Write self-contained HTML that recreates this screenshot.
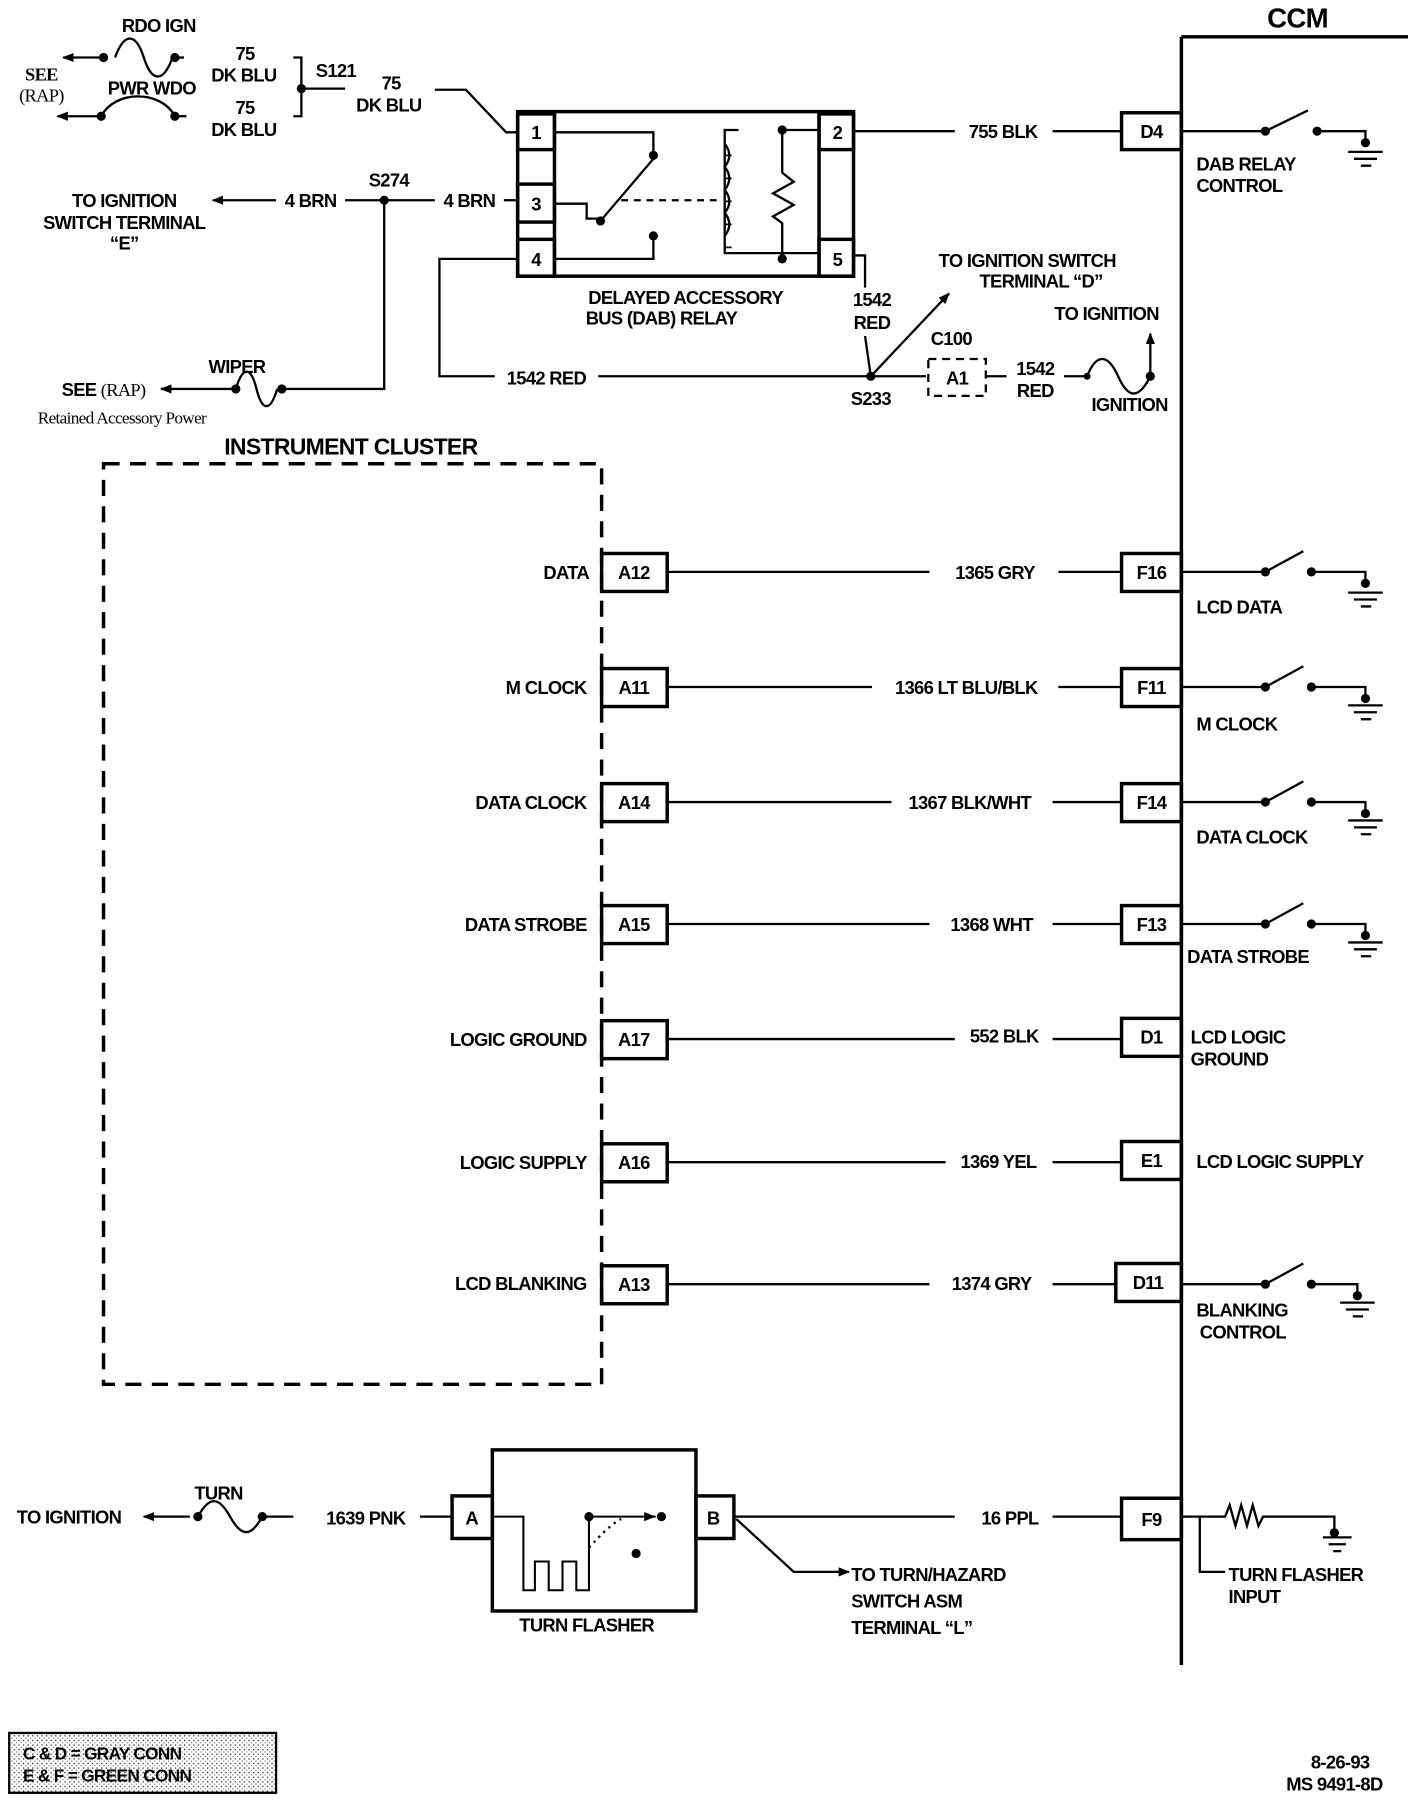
<!DOCTYPE html>
<html><head><meta charset="utf-8"><style>
html,body{margin:0;padding:0;background:#fff;}
svg{display:block;}
text{font-family:"Liberation Sans",sans-serif;font-weight:bold;font-size:16px;fill:#000;letter-spacing:-0.6px;}
.m{text-anchor:middle}.e{text-anchor:end}
</style></head><body>
<svg width="1408" height="1802" viewBox="0 0 1224 1566" preserveAspectRatio="none" xmlns="http://www.w3.org/2000/svg">
<defs>
<marker id="ar" markerWidth="10" markerHeight="8" refX="9" refY="4" orient="auto-start-reverse" markerUnits="userSpaceOnUse"><path d="M0,0 L10,4 L0,8 Z" fill="#000"/></marker>
<pattern id="st" width="4" height="4" patternUnits="userSpaceOnUse"><rect width="4" height="4" fill="#fff"/><rect width="1" height="1" fill="#000"/><rect x="2" y="2" width="1" height="1" fill="#777"/></pattern>
</defs>
<g stroke="#000" stroke-width="2" fill="none">
<line x1="1027" y1="32" x2="1027" y2="1447" stroke-width="3"/>
<line x1="1027" y1="32" x2="1224" y2="32" stroke-width="3"/>
<line x1="55" y1="50" x2="90" y2="50" marker-start="url(#ar)"/>
<path d="M100,50 c8,-22 18,-22 25,0 s17,22 25,0"/>
<line x1="150" y1="50" x2="160" y2="50"/>
<line x1="50" y1="101" x2="88" y2="101" marker-start="url(#ar)"/>
<path d="M88,101 C100,78 140,78 152,101"/>
<line x1="152" y1="101" x2="162" y2="101"/>
<path d="M255,50 H262 V101 H255"/>
<line x1="262" y1="77" x2="300" y2="77"/>
<path d="M378,78 H405 L440,115 H450"/>
<rect x="450" y="97" width="292" height="143" stroke-width="3"/>
<line x1="482" y1="97" x2="482" y2="240" stroke-width="3"/>
<line x1="712" y1="97" x2="712" y2="240" stroke-width="3"/>
<rect x="450" y="99" width="32" height="31" stroke-width="3"/>
<rect x="450" y="160" width="32" height="33" stroke-width="3"/>
<rect x="450" y="208" width="32" height="32" stroke-width="3"/>
<rect x="712" y="99" width="30" height="31" stroke-width="3"/>
<rect x="712" y="208" width="30" height="32" stroke-width="3"/>
<path d="M482,115 H568 V135"/>
<line x1="522" y1="192" x2="568" y2="138"/>
<path d="M482,177 H510 V190 H522"/>
<path d="M568,205 V225 H482"/>
<line x1="540" y1="174" x2="628" y2="174" stroke-dasharray="6,5"/>
<path d="M642,113 H630 V220 H642 M680,113 H712 M630,220 H712"/>
<path d="M630,135 h6 M630,155 h6 M630,175 h6 M630,195 h6 M630,215 h6" stroke-width="1.5"/>
<path d="M630,125 q8,10 0,20 q8,10 0,20 q8,10 0,20 q8,10 0,20"/>
<path d="M680,113 V150 l10,8 -18,10 18,10 -18,10 8,6 V225"/>
<line x1="742" y1="114" x2="830" y2="114"/><line x1="915" y1="114" x2="975" y2="114"/>
<line x1="185" y1="174" x2="240" y2="174" marker-start="url(#ar)"/>
<line x1="300" y1="174" x2="378" y2="174"/><line x1="438" y1="174" x2="450" y2="174"/>
<path d="M334,174 V338 H245"/>
<path d="M205,338 c6,-20 13,-20 18,0 s12,20 18,0"/>
<line x1="140" y1="338" x2="205" y2="338" marker-start="url(#ar)"/>
<path d="M450,225 H382 V327 H430"/>
<line x1="520" y1="327" x2="805" y2="327"/>
<path d="M742,222 H752 V250"/>
<line x1="752" y1="292" x2="757" y2="327"/>
<line x1="757" y1="327" x2="825" y2="255" marker-end="url(#ar)"/>
<rect x="807" y="312" width="50" height="32" stroke-dasharray="7,5"/>
<line x1="857" y1="327" x2="875" y2="327"/>
<line x1="925" y1="327" x2="945" y2="327"/>
<path d="M945,327 c8,-20 18,-20 27,0 s18,20 28,0"/>
<line x1="1000" y1="327" x2="1000" y2="290" marker-end="url(#ar)"/>
<rect x="90" y="403" width="433" height="800" stroke-width="3" stroke-dasharray="14,9"/>
<line x1="125" y1="1318" x2="165" y2="1318" marker-start="url(#ar)"/>
<path d="M172,1318 c10,-18 18,-18 28,0 s18,18 28,0"/>
<line x1="228" y1="1318" x2="255" y2="1318"/>
<line x1="365" y1="1318" x2="393" y2="1318"/>
<rect x="428" y="1260" width="177" height="140" stroke-width="3"/>
<rect x="393" y="1300" width="35" height="37" stroke-width="3"/>
<rect x="605" y="1300" width="33" height="37" stroke-width="3"/>
<path d="M428,1318 H455 V1382 H465 V1357 H477 V1382 H489 V1357 H501 V1382 H512 V1318 H570" stroke-width="1.8"/>
<path d="M512,1345 Q530,1325 540,1320" stroke-dasharray="2,4"/>
<line x1="638" y1="1318" x2="830" y2="1318"/><line x1="915" y1="1318" x2="975" y2="1318"/>
<rect x="975" y="1302" width="52" height="36" stroke-width="3"/>
<path d="M640,1320 L690,1366 H738" marker-end="url(#ar)"/>
<path d="M1027,1318 H1065 l4,-10 5,18 5,-18 5,18 5,-18 5,18 4,-8 H1160 V1330"/>
<path d="M1043,1318 V1366 H1065"/>
<path d="M1150,1336 H1175 M1155,1342 H1170 M1159,1348 H1166"/>
</g>
<g fill="#000">
<circle cx="90" cy="50" r="4"/><circle cx="152" cy="50" r="4"/>
<circle cx="88" cy="101" r="4"/><circle cx="152" cy="101" r="4"/>
<circle cx="262" cy="77" r="4"/>
<circle cx="568" cy="135" r="4"/><circle cx="522" cy="192" r="4"/><circle cx="568" cy="205" r="4"/>
<circle cx="680" cy="113" r="4"/><circle cx="680" cy="225" r="4"/>
<circle cx="334" cy="174" r="4"/><circle cx="245" cy="338" r="4"/><circle cx="205" cy="338" r="4"/>
<circle cx="757" cy="327" r="4"/><circle cx="1000" cy="327" r="4"/><circle cx="945" cy="327" r="3"/>
<circle cx="172" cy="1318" r="4"/><circle cx="228" cy="1318" r="4"/>
<circle cx="512" cy="1318" r="4"/><circle cx="575" cy="1318" r="4"/><circle cx="553" cy="1350" r="4"/>
<circle cx="1160" cy="1332" r="4"/>
</g>
<path d="M560,1314 L570,1318 L560,1322Z" fill="#000"/>

<g stroke="#000" stroke-width="2" fill="none">
<rect x="975" y="98" width="52" height="32" stroke-width="3"/>
<path d="M1027,114 H1098 M1100,114 L1137,96 M1145,114 H1187 V122 M1172,132 H1202 M1177,138 H1197 M1183,144 H1192"/>
</g>
<g fill="#000"><circle cx="1100" cy="114" r="4"/><circle cx="1145" cy="114" r="4"/><circle cx="1187" cy="124" r="4"/></g>

<g stroke="#000" stroke-width="2" fill="none">
<rect x="523" y="481" width="57" height="33" stroke-width="3"/><rect x="975" y="481" width="52" height="33" stroke-width="3"/>
<rect x="523" y="581" width="57" height="33" stroke-width="3"/><rect x="975" y="581" width="52" height="33" stroke-width="3"/>
<rect x="523" y="681" width="57" height="33" stroke-width="3"/><rect x="975" y="681" width="52" height="33" stroke-width="3"/>
<rect x="523" y="787" width="57" height="33" stroke-width="3"/><rect x="975" y="787" width="52" height="33" stroke-width="3"/>
<rect x="523" y="887" width="57" height="33" stroke-width="3"/><rect x="975" y="885" width="52" height="33" stroke-width="3"/>
<rect x="523" y="994" width="57" height="33" stroke-width="3"/><rect x="975" y="992" width="52" height="33" stroke-width="3"/>
<rect x="523" y="1100" width="57" height="33" stroke-width="3"/><rect x="970" y="1098" width="57" height="33" stroke-width="3"/>
<path d="M580,497 H808 M920,497 H975"/>
<path d="M580,597 H758 M920,597 H975"/>
<path d="M580,697 H775 M915,697 H975"/>
<path d="M580,803 H808 M915,803 H975"/>
<path d="M580,903 H830 M915,903 H975"/>
<path d="M580,1010 H822 M915,1010 H975"/>
<path d="M580,1116 H808 M915,1116 H970"/>
<path d="M1027,497 H1098 M1100,497 L1133,479 M1140,497 H1187 V505 M1172,515 H1202 M1177,521 H1197 M1183,527 H1192"/>
<path d="M1027,597 H1098 M1100,597 L1133,579 M1140,597 H1187 V605 M1172,613 H1202 M1177,619 H1197 M1183,625 H1192"/>
<path d="M1027,697 H1098 M1100,697 L1133,679 M1140,697 H1187 V705 M1172,713 H1202 M1177,719 H1197 M1183,725 H1192"/>
<path d="M1027,803 H1098 M1100,803 L1133,785 M1140,803 H1187 V811 M1172,819 H1202 M1177,825 H1197 M1183,831 H1192"/>
<path d="M1027,1116 H1098 M1100,1116 L1133,1098 M1140,1116 H1180 V1124 M1165,1132 H1195 M1170,1138 H1190 M1176,1144 H1185"/>
</g>
<g fill="#000">
<circle cx="1100" cy="497" r="4"/><circle cx="1140" cy="497" r="4"/><circle cx="1187" cy="507" r="4"/>
<circle cx="1100" cy="597" r="4"/><circle cx="1140" cy="597" r="4"/><circle cx="1187" cy="607" r="4"/>
<circle cx="1100" cy="697" r="4"/><circle cx="1140" cy="697" r="4"/><circle cx="1187" cy="707" r="4"/>
<circle cx="1100" cy="803" r="4"/><circle cx="1140" cy="803" r="4"/><circle cx="1187" cy="813" r="4"/>
<circle cx="1100" cy="1116" r="4"/><circle cx="1140" cy="1116" r="4"/><circle cx="1180" cy="1126" r="4"/>
</g>

<rect x="8" y="1506" width="232" height="52" fill="url(#st)" stroke="#000" stroke-width="2"/>

<text x="1128" y="24" class="m" style="font-size:24px">CCM</text>
<text x="138" y="28" class="m">RDO IGN</text>
<text x="36" y="70" class="m" style="font-family:'Liberation Serif',serif;font-weight:bold">SEE</text>
<text x="36" y="88" class="m" style="font-family:'Liberation Serif',serif;font-weight:normal">(RAP)</text>
<text x="132" y="82" class="m">PWR WDO</text>
<text x="213" y="52" class="m">75</text><text x="212" y="71" class="m">DK BLU</text>
<text x="213" y="99" class="m">75</text><text x="212" y="118" class="m">DK BLU</text>
<text x="292" y="67" class="m">S121</text>
<text x="340" y="78" class="m">75</text><text x="338" y="97" class="m">DK BLU</text>
<text x="466" y="121" class="m">1</text><text x="466" y="183" class="m">3</text><text x="466" y="231" class="m">4</text>
<text x="728" y="121" class="m">2</text><text x="728" y="231" class="m">5</text>
<text x="872" y="120" class="m">755 BLK</text>
<text x="1001" y="120" class="m">D4</text>
<text x="1040" y="148">DAB RELAY</text><text x="1040" y="167">CONTROL</text>
<text x="338" y="162" class="m">S274</text>
<text x="270" y="180" class="m">4 BRN</text><text x="408" y="180" class="m">4 BRN</text>
<text x="108" y="180" class="m">TO IGNITION</text><text x="108" y="199" class="m">SWITCH TERMINAL</text><text x="108" y="217" class="m">“E”</text>
<text x="596" y="264" class="m">DELAYED ACCESSORY</text><text x="575" y="282" class="m">BUS (DAB) RELAY</text>
<text x="893" y="232" class="m">TO IGNITION SWITCH</text><text x="905" y="250" class="m">TERMINAL “D”</text>
<text x="758" y="266" class="m">1542</text><text x="758" y="286" class="m">RED</text>
<text x="962" y="278" class="m">TO IGNITION</text>
<text x="827" y="300" class="m">C100</text>
<text x="832" y="334" class="m">A1</text>
<text x="900" y="326" class="m">1542</text><text x="900" y="345" class="m">RED</text>
<text x="982" y="357" class="m">IGNITION</text>
<text x="757" y="352" class="m">S233</text>
<text x="475" y="334" class="m">1542 RED</text>
<text x="206" y="324" class="m">WIPER</text>
<text x="90" y="344" class="m">SEE <tspan style="font-family:'Liberation Serif',serif;font-weight:normal">(RAP)</tspan></text>
<text x="106" y="368" class="m" style="font-family:'Liberation Serif',serif;font-weight:normal;font-size:15px">Retained Accessory Power</text>
<text x="305" y="395" class="m" style="font-size:20px">INSTRUMENT CLUSTER</text>

<text x="512" y="503" class="e">DATA</text><text x="551" y="503" class="m">A12</text><text x="865" y="503" class="m">1365 GRY</text><text x="1001" y="503" class="m">F16</text><text x="1040" y="533">LCD DATA</text>
<text x="510" y="603" class="e">M CLOCK</text><text x="551" y="603" class="m">A11</text><text x="840" y="603" class="m">1366 LT BLU/BLK</text><text x="1001" y="603" class="m">F11</text><text x="1040" y="635">M CLOCK</text>
<text x="510" y="703" class="e">DATA CLOCK</text><text x="551" y="703" class="m">A14</text><text x="843" y="703" class="m">1367 BLK/WHT</text><text x="1001" y="703" class="m">F14</text><text x="1040" y="733">DATA CLOCK</text>
<text x="510" y="809" class="e">DATA STROBE</text><text x="551" y="809" class="m">A15</text><text x="862" y="809" class="m">1368 WHT</text><text x="1001" y="809" class="m">F13</text><text x="1032" y="837">DATA STROBE</text>
<text x="510" y="909" class="e">LOGIC GROUND</text><text x="551" y="909" class="m">A17</text><text x="873" y="906" class="m">552 BLK</text><text x="1001" y="907" class="m">D1</text><text x="1035" y="907">LCD LOGIC</text><text x="1035" y="926">GROUND</text>
<text x="510" y="1016" class="e">LOGIC SUPPLY</text><text x="551" y="1016" class="m">A16</text><text x="868" y="1015" class="m">1369 YEL</text><text x="1001" y="1014" class="m">E1</text><text x="1040" y="1015">LCD LOGIC SUPPLY</text>
<text x="510" y="1121" class="e">LCD BLANKING</text><text x="551" y="1122" class="m">A13</text><text x="862" y="1121" class="m">1374 GRY</text><text x="998" y="1120" class="m">D11</text><text x="1040" y="1144">BLANKING</text><text x="1043" y="1163">CONTROL</text>

<text x="60" y="1324" class="m">TO IGNITION</text>
<text x="190" y="1303" class="m">TURN</text>
<text x="318" y="1325" class="m">1639 PNK</text>
<text x="410" y="1325" class="m">A</text><text x="620" y="1325" class="m">B</text>
<text x="510" y="1418" class="m">TURN FLASHER</text>
<text x="878" y="1325" class="m">16 PPL</text>
<text x="1001" y="1326" class="m">F9</text>
<text x="740" y="1374">TO TURN/HAZARD</text><text x="740" y="1397">SWITCH ASM</text><text x="740" y="1420">TERMINAL “L”</text>
<text x="1068" y="1374">TURN FLASHER</text><text x="1068" y="1393">INPUT</text>
<text x="20" y="1529" style="font-size:15px">C &amp; D = GRAY CONN</text>
<text x="20" y="1548" style="font-size:15px">E &amp; F = GREEN CONN</text>
<text x="1165" y="1537" class="m">8-26-93</text>
<text x="1160" y="1556" class="m">MS 9491-8D</text>
</svg>
</body></html>
